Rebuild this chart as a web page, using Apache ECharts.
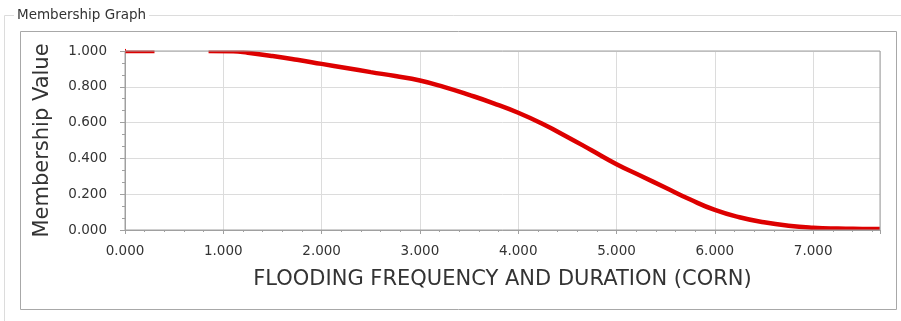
<!DOCTYPE html>
<html>
<head>
<meta charset="utf-8">
<script src="https://cdn.jsdelivr.net/npm/echarts@6/dist/echarts.min.js"></script>
<style>
html,body{margin:0;padding:0;background:#fff;}
#chart{width:901px;height:321px;}
</style>
</head>
<body>
<div id="chart"></div>
<script>
// ---- data ----
const groupTitle = 'Membership Graph';
const xAxisName = 'FLOODING FREQUENCY AND DURATION (CORN)';
const yAxisName = 'Membership Value';
const xValues = [0, 0.3, null, 0.85, 1.1, 1.25, 1.5, 1.75, 2.0, 2.25, 2.5, 2.75, 3.0, 3.25, 3.5, 3.75, 4.0, 4.25, 4.5, 4.75, 5.0, 5.25, 5.5, 5.75, 6.0, 6.25, 6.5, 6.75, 7.0, 7.25, 7.5, 7.68];
const yValues = [1, 1, null, 1, 0.998, 0.99, 0.972, 0.951, 0.928, 0.905, 0.882, 0.86, 0.835, 0.798, 0.755, 0.708, 0.655, 0.592, 0.52, 0.444, 0.368, 0.302, 0.236, 0.17, 0.112, 0.071, 0.043, 0.024, 0.013, 0.008, 0.006, 0.005];
const xMin = 0, xMax = 7.68, xMajor = 1, xMinor = 0.2;
const yMin = 0, yMax = 1, yMajor = 0.2;

const seriesData = xValues.map((x, i) => (x === null ? '-' : [x, yValues[i]]));

const axisColor = '#a0a0a0';
const gridColor = '#dcdcdc';
const textColor = '#333';
const fontFam = '"DejaVu Sans", Verdana, sans-serif';

// plot rectangle (pixels)
const G = {left: 125, right: 21, top: 51, bottom: 91};
const W = 901, H = 321;

const chart = echarts.init(document.getElementById('chart'), null, {renderer: 'canvas'});
chart.setOption({
  animation: false,
  backgroundColor: '#fff',
  graphic: [
    {type: 'rect', z: -10, silent: true, shape: {x: 4.5, y: 15.5, width: 1000, height: 1000},
     style: {fill: 'none', stroke: '#dcdcdc', lineWidth: 1}},
    {type: 'rect', z: -9, silent: true, shape: {x: 20.5, y: 31.5, width: 876, height: 278},
     style: {fill: '#fff', stroke: '#a8a8a8', lineWidth: 1}},
    {type: 'text', z: -8, left: 14, top: 8,
     style: {text: groupTitle, fill: textColor, font: '13.5px ' + fontFam,
             backgroundColor: '#fff', padding: [0, 3, 0, 3]}},
    // masks that clip the thick curve exactly at the plot edges
    {type: 'rect', z: 2, silent: true, shape: {x: G.left + 1, y: G.top - 6, width: W - G.left - G.right - 1, height: 5.5},
     style: {fill: '#fff'}},
    {type: 'rect', z: 2, silent: true, shape: {x: G.left + 1, y: H - G.bottom + 0.5, width: W - G.left - G.right - 1, height: 6},
     style: {fill: '#fff'}}
  ],
  grid: {left: G.left, right: G.right, top: G.top, bottom: G.bottom, show: true, z: 3,
         borderColor: axisColor, borderWidth: 1, backgroundColor: 'transparent'},
  xAxis: [
    // labels, name and grid lines (below the curve)
    {type: 'value', min: xMin, max: xMax, interval: xMajor, z: 0,
     name: xAxisName, nameLocation: 'middle', nameGap: 39,
     nameTextStyle: {fontSize: 21, color: textColor, fontFamily: fontFam},
     axisLine: {show: false}, axisTick: {show: false},
     axisLabel: {show: true, margin: 14, fontSize: 13.5, color: textColor, fontFamily: fontFam,
                 showMaxLabel: false, formatter: v => v.toFixed(3)},
     splitLine: {show: true, lineStyle: {color: gridColor}}},
    // axis line + major ticks (above the edge mask)
    {type: 'value', min: xMin, max: xMax, interval: xMajor, position: 'bottom', z: 3,
     axisLine: {show: true, onZero: false, lineStyle: {color: axisColor}},
     axisLabel: {show: false}, splitLine: {show: false},
     axisTick: {show: true, length: 4, lineStyle: {color: axisColor}}},
    // minor ticks
    {type: 'value', min: xMin, max: xMax, interval: xMinor, position: 'bottom', z: 3,
     axisLine: {show: false}, axisLabel: {show: false}, splitLine: {show: false},
     axisTick: {show: true, length: 2, lineStyle: {color: axisColor}}}
  ],
  yAxis: {type: 'value', min: yMin, max: yMax, interval: yMajor, z: 0,
     name: yAxisName, nameLocation: 'middle', nameGap: 72,
     nameTextStyle: {fontSize: 21, color: textColor, fontFamily: fontFam},
     axisLine: {show: true, lineStyle: {color: axisColor}},
     axisTick: {show: true, length: 5, lineStyle: {color: axisColor}},
     minorTick: {show: true, splitNumber: 3, length: 3, lineStyle: {color: axisColor}},
     axisLabel: {margin: 18, fontSize: 13.5, color: textColor, fontFamily: fontFam,
                 formatter: v => v.toFixed(3)},
     splitLine: {show: true, lineStyle: {color: gridColor}}},
  series: [{
    type: 'line', xAxisIndex: 0, z: 1, data: seriesData, showSymbol: false, smooth: 0.5,
    connectNulls: false, clip: true,
    lineStyle: {color: '#dd0000', width: 4.5}
  }]
});
</script>
</body>
</html>
